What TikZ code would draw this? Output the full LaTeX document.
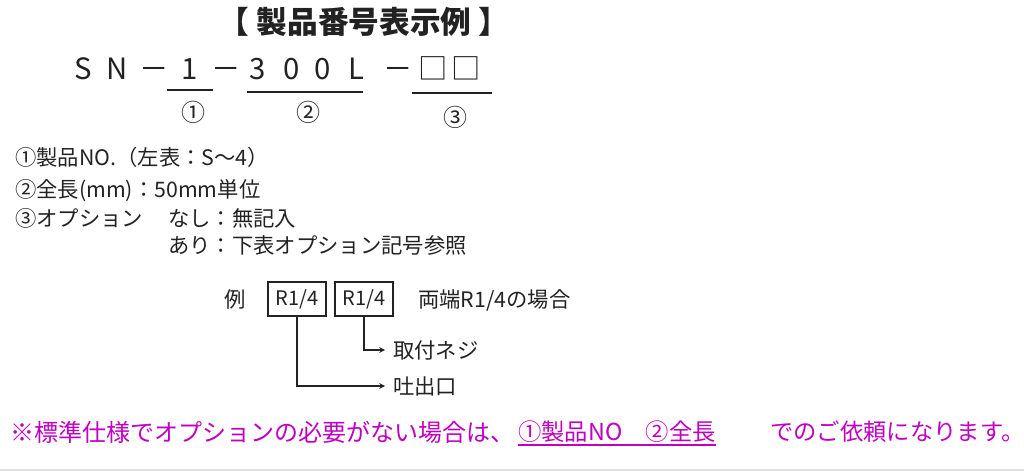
\documentclass[tikz,border=0pt]{standalone}
\usepackage{fontspec}
\setmainfont{Noto Sans CJK JP}
\usepackage{tikz}
\usetikzlibrary{positioning,arrows.meta,calc}
\usepackage{xcolor}
\definecolor{notemagenta}{HTML}{C000C0}
\definecolor{inkgray}{HTML}{222222}

\begin{document}
\begin{tikzpicture}[
    x=0.75pt, y=-0.75pt,
    titletext/.style={font=\fontsize{23}{27}\selectfont\bfseries, text=inkgray, inner sep=0pt},
    codechar/.style={font=\fontsize{22}{26}\selectfont, text=inkgray, inner sep=0pt, anchor=base},
    circnum/.style={font=\fontsize{18}{21}\selectfont, text=inkgray, inner sep=0pt},
    bodytext/.style={font=\fontsize{16}{19}\selectfont, text=inkgray, anchor=west, inner sep=0pt},
    optbox/.style={draw=inkgray, line width=1.6pt, font=\fontsize{15}{18}\selectfont, text=inkgray, minimum width=43.5pt, minimum height=25.5pt, inner sep=1pt},
    target/.style={font=\fontsize{16}{19}\selectfont, text=inkgray, anchor=west, inner ysep=0pt, inner xsep=6pt},
    codeline/.style={draw=inkgray, line width=1.5pt},
    link/.style={draw=inkgray, line width=0.9pt, ->, >=stealth},
    note/.style={font=\fontsize{17.5}{20}\selectfont, text=notemagenta, anchor=west, inner sep=0pt}
]
    \useasboundingbox (0,0) rectangle (1024,473);

    % Titel
    \node[titletext] (title) at (364, 22) {【 製品番号表示例 】};

    % Produktcode
    \foreach \px/\ch [count=\i] in {83/S, 117/N, 154/－, 190/1, 226/－, 258/3, 292/0, 323/0, 356/L, 398/－, 433/□, 466/□}
        \node[codechar] (c\i) at (\px, 80) {\ch};

    \draw[codeline] (167, 90) -- (213, 90);
    \draw[codeline] (247, 92) -- (363, 92);
    \draw[codeline] (412, 93) -- (492, 93);

    \node[circnum] (m1) at (193, 112) {①};
    \node[circnum] (m2) at (308, 112) {②};
    \node[circnum] (m3) at (455, 117) {③};

    % Erlaeuterungen
    \node[bodytext] (item1) at (15, 157) {①製品NO.（左表：S～4）};
    \node[bodytext] (item2) at (15, 191) {②全長(mm)：50mm単位};
    \node[bodytext] (item3) at (15, 218) {③オプション};
    \node[bodytext] (none)  at (168, 218) {なし：無記入};
    \node[bodytext] (with)  at (168, 245) {あり：下表オプション記号参照};

    % Beispiel
    \node[bodytext] (ex)   at (224, 299) {例};
    \node[optbox]   (box1) at (297, 299) {R1/4};
    \node[optbox]   (box2) at (364, 299) {R1/4};
    \node[bodytext] (both) at (418, 300) {両端R1/4の場合};

    \node[target] (thread) at (385, 350) {取付ネジ};
    \node[target] (outlet) at (385, 386) {吐出口};

    \draw[link] (box2.south) |- (thread.west);
    \draw[link] (box1.south) |- (outlet.west);

    % Hinweis
    \node[note, font=\fontsize{18}{21}\selectfont] (note1) at (10, 432) {※標準仕様でオプションの必要がない場合は、};
    \node[note] (note2) at (518, 432) {①製品NO　②全長};
    \node[note] (note3) at (770, 432) {でのご依頼になります。};
    \draw[notemagenta, line width=1.2pt] ($(note2.south west)+(0,2)$) -- ($(note2.south east)+(0,2)$);

    \draw[gray!25, line width=1.5pt] (0, 470) -- (1024, 470);
\end{tikzpicture}
\end{document}
